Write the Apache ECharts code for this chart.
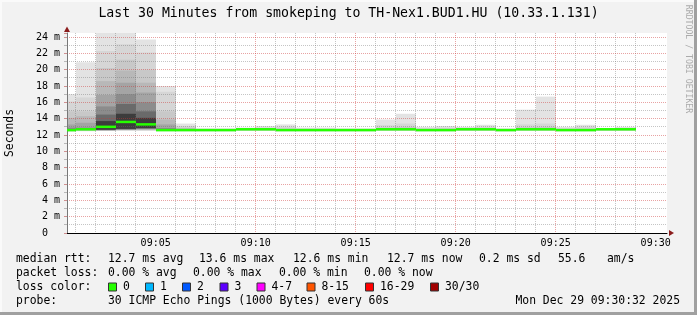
<!DOCTYPE html>
<html><head><meta charset="utf-8">
<script src="https://cdn.jsdelivr.net/npm/echarts@6/dist/echarts.min.js"></script>
<style>html,body{margin:0;padding:0;background:#f2f2f2}#c{width:697px;height:315px}</style>
</head><body><div id="c"></div>
<script>
// ---------------- data ----------------
const titleText = 'Last 30 Minutes from smokeping to TH-Nex1.BUD1.HU (10.33.1.131)';
const viewStart = '09:00:34';
const viewEnd = '09:30:34';
const xMajorTicks = ['09:05','09:10','09:15','09:20','09:25','09:30'];
const xMinorTicks = ['09:01','09:02','09:03','09:04','09:06','09:07','09:08','09:09',
  '09:11','09:12','09:13','09:14','09:16','09:17','09:18','09:19',
  '09:21','09:22','09:23','09:24','09:26','09:27','09:28','09:29'];
const yMinorTicks = [1,3,5,7,9,11,13,15,17,19,21,23];
const minutes = ['09:00','09:01','09:02','09:03','09:04','09:05','09:06','09:07','09:08','09:09',
  '09:10','09:11','09:12','09:13','09:14','09:15','09:16','09:17','09:18','09:19',
  '09:20','09:21','09:22','09:23','09:24','09:25','09:26','09:27','09:28'];
// median rtt per minute (ms)
const medianRtt = [12.6,12.7,13.0,13.6,13.3,12.6,12.6,12.6,12.6,12.7,
  12.7,12.6,12.6,12.6,12.6,12.6,12.7,12.7,12.6,12.6,
  12.7,12.7,12.6,12.7,12.7,12.6,12.6,12.7,12.7];
// smoke bands (outer -> inner): upper edges (ms)
const smokeUpper = [
  [17.0,16.1,14.9,14.1,13.3,12.9,12.75,12.7],
  [20.9,16.6,14.9,14.3,13.5,12.9,12.8,12.75],
  [26.5,22.3,20.2,18.6,16.9,15.5,14.5,13.7],
  [26.0,23.1,21.2,19.9,18.4,17.0,15.8,14.6],
  [23.7,22.1,20.0,18.4,17.2,16.0,14.9,14.1],
  [18.0,17.3,14.9,13.9,13.3,12.85,12.75,12.7],
  [13.4,13.1,12.9,12.8,12.75,12.7,12.7,12.65],
  [12.8,12.75,12.7,12.7,12.65,12.65,12.6,12.6],
  [12.8,12.75,12.7,12.7,12.65,12.65,12.6,12.6],
  [12.9,12.8,12.75,12.75,12.7,12.7,12.7,12.7],
  [13.1,12.9,12.8,12.75,12.75,12.7,12.7,12.7],
  [13.3,13.0,12.8,12.7,12.7,12.65,12.65,12.6],
  [12.9,12.8,12.7,12.7,12.65,12.65,12.6,12.6],
  [12.9,12.8,12.7,12.7,12.65,12.65,12.6,12.6],
  [12.8,12.75,12.7,12.7,12.65,12.65,12.6,12.6],
  [12.8,12.75,12.7,12.7,12.65,12.65,12.6,12.6],
  [13.9,13.2,12.9,12.8,12.75,12.75,12.7,12.7],
  [14.6,13.4,13.0,12.85,12.8,12.75,12.7,12.7],
  [13.0,12.85,12.75,12.7,12.7,12.65,12.65,12.6],
  [13.1,12.9,12.8,12.7,12.7,12.65,12.65,12.6],
  [13.0,12.9,12.8,12.75,12.75,12.7,12.7,12.7],
  [13.25,13.0,12.85,12.8,12.75,12.75,12.7,12.7],
  [12.8,12.75,12.7,12.7,12.65,12.65,12.6,12.6],
  [15.1,13.3,12.95,12.85,12.8,12.75,12.7,12.7],
  [16.7,13.4,13.0,12.85,12.8,12.75,12.7,12.7],
  [13.0,12.85,12.75,12.7,12.7,12.65,12.65,12.6],
  [13.25,13.0,12.8,12.7,12.7,12.65,12.65,12.6],
  [12.8,12.75,12.75,12.7,12.7,12.7,12.7,12.7],
  [13.0,12.85,12.8,12.75,12.7,12.7,12.7,12.7]
];
// smoke bands (outer -> inner): lower edges (ms)
const smokeLower = [
  [12.4,12.5,12.5,12.5,12.55,12.55,12.6,12.6],
  [12.45,12.5,12.55,12.6,12.6,12.65,12.65,12.7],
  [12.5,12.5,12.55,12.6,12.6,12.6,12.6,12.65],
  [12.5,12.55,12.6,12.6,12.65,12.7,12.7,12.75],
  [12.5,12.55,12.6,12.65,12.7,12.75,12.8,12.85],
  [12.45,12.5,12.5,12.55,12.55,12.6,12.6,12.6],
  [12.45,12.5,12.5,12.55,12.55,12.6,12.6,12.6],
  [12.45,12.5,12.5,12.55,12.55,12.6,12.6,12.6],
  [12.45,12.5,12.5,12.55,12.55,12.6,12.6,12.6],
  [12.5,12.55,12.6,12.6,12.65,12.65,12.65,12.7],
  [12.5,12.55,12.6,12.6,12.65,12.65,12.65,12.7],
  [12.45,12.5,12.5,12.55,12.55,12.6,12.6,12.6],
  [12.45,12.5,12.5,12.55,12.55,12.6,12.6,12.6],
  [12.45,12.5,12.5,12.55,12.55,12.6,12.6,12.6],
  [12.45,12.5,12.5,12.55,12.55,12.6,12.6,12.6],
  [12.45,12.5,12.5,12.55,12.55,12.6,12.6,12.6],
  [12.5,12.55,12.6,12.6,12.65,12.65,12.65,12.7],
  [12.5,12.55,12.6,12.6,12.65,12.65,12.65,12.7],
  [12.45,12.5,12.5,12.55,12.55,12.6,12.6,12.6],
  [12.45,12.5,12.5,12.55,12.55,12.6,12.6,12.6],
  [12.5,12.55,12.6,12.6,12.65,12.65,12.65,12.7],
  [12.5,12.55,12.6,12.6,12.65,12.65,12.65,12.7],
  [12.45,12.5,12.5,12.55,12.55,12.6,12.6,12.6],
  [12.5,12.55,12.6,12.6,12.65,12.65,12.65,12.7],
  [12.5,12.55,12.6,12.6,12.65,12.65,12.65,12.7],
  [12.45,12.5,12.5,12.55,12.55,12.6,12.6,12.6],
  [12.45,12.5,12.5,12.55,12.55,12.6,12.6,12.6],
  [12.5,12.55,12.6,12.6,12.65,12.65,12.65,12.7],
  [12.5,12.55,12.6,12.6,12.65,12.65,12.65,12.7]
];
const rttStats = ['12.7 ms avg','13.6 ms max','12.6 ms min','12.7 ms now','0.2 ms sd','55.6','am/s'];
const lossStats = ['0.00 % avg','0.00 % max','0.00 % min','0.00 % now'];
const lossLabels = ['0','1','2','3','4-7','8-15','16-29','30/30'];
const lossColors = ['#26ff00','#00b8ff','#0059ff','#5e00ff','#ff00ff','#ff5500','#ff0000','#a10000'];
const probeText = '30 ICMP Echo Pings (1000 Bytes) every 60s';
const dateText = 'Mon Dec 29 09:30:32 2025';
const yMax = 24.49;

// ---------------- layout / style ----------------
const MONO = '"DejaVu Sans Mono", monospace';
const bandColors = ['#e3e3e3','#d6d6d6','#c8c8c8','#b8b8b8','#a4a4a4','#8c8c8c','#6a6a6a','#3c3c3c'];
const NB = bandColors.length;
const rttX = [108,199,293,387,479,558,607];
const lossX = [108,193,279,364];
const swatchX = [108,145,182,219.5,256.5,306.5,365,430];
const rowY = [259.5,273.5,287.5,301.5];
const LEG_FONT = '11.4px ' + MONO;
const MAJOR_COLOR = 'rgba(205,50,50,0.45)';
const MINOR_COLOR = 'rgba(110,110,110,0.4)';

function toTime(s){ const p = s.split(':').map(Number); return new Date(2025,11,29,p[0],p[1],p[2]||0).getTime(); }
const tMin = toTime(viewStart), tMax = toTime(viewEnd);
const majorVals = xMajorTicks.map(toTime);
const data = minutes.map((m,i)=>[toTime(m), toTime(m)+60000, medianRtt[i]].concat(smokeUpper[i], smokeLower[i]));

function pad(n){ return (n<10?'0':'')+n; }
function crisp(v){ return Math.round(v - 0.5) + 0.5; }

function renderSmoke(params, api){
  const cs = params.coordSys;
  const t0 = api.value(0), t1 = api.value(1);
  const children = [];
  for (let k=0;k<NB;k++){
    const hi = api.value(3+k), lo = api.value(3+NB+k);
    const a = api.coord([t0, hi]), b = api.coord([t1, lo]);
    const x0 = Math.round(a[0]), x1 = Math.round(b[0]);
    const r = echarts.graphic.clipRectByRect(
      {x:x0, y:a[1], width:x1-x0, height:b[1]-a[1]},
      {x:cs.x, y:cs.y, width:cs.width, height:cs.height});
    if (r) children.push({type:'rect', shape:r, style:{fill:bandColors[k]}});
  }
  return {type:'group', children};
}
function renderMedian(params, api){
  const cs = params.coordSys;
  const a = api.coord([api.value(0), api.value(2)]);
  const b = api.coord([api.value(1), api.value(2)]);
  const x0 = Math.round(a[0]), x1 = Math.round(b[0]);
  const r = echarts.graphic.clipRectByRect(
    {x:x0, y:a[1]-1.25, width:x1-x0, height:2.5},
    {x:cs.x, y:cs.y, width:cs.width, height:cs.height});
  if (!r) return null;
  return {type:'rect', shape:r, style:{fill:lossColors[0]}};
}
function renderVGrid(params, api){
  const t = api.value(0);
  const p = api.coord([t, 0]), q = api.coord([t, yMax]);
  const x = crisp(p[0]);
  return {type:'line', shape:{x1:x, y1:q[1], x2:x, y2:p[1]}, style:{stroke:MINOR_COLOR, lineWidth:1, lineDash:[1,1]}};
}
function renderHGrid(params, api){
  const v = api.value(0);
  const p = api.coord([tMin, v]), q = api.coord([tMax, v]);
  const y = crisp(p[1]);
  return {type:'group', children:[
    {type:'line', shape:{x1:p[0], y1:y, x2:q[0], y2:y}, style:{stroke:MINOR_COLOR, lineWidth:1, lineDash:[1,1]}},
    {type:'line', shape:{x1:p[0]-3, y1:y, x2:p[0], y2:y}, style:{stroke:'#b8b8b8', lineWidth:1}}
  ]};
}

const graphics = [];
graphics.push({type:'rect', shape:{x:0,y:0,width:697,height:2}, style:{fill:'#fafafa'}, z:100});
graphics.push({type:'rect', shape:{x:0,y:0,width:2,height:315}, style:{fill:'#fafafa'}, z:100});
graphics.push({type:'rect', shape:{x:694,y:0,width:3,height:315}, style:{fill:'#a0a0a0'}, z:100});
graphics.push({type:'rect', shape:{x:0,y:312,width:697,height:3}, style:{fill:'#a0a0a0'}, z:100});
graphics.push({type:'text', x:348.5, y:13.5, style:{text:titleText, font:'13.2px '+MONO, fill:'#000', textAlign:'center', textVerticalAlign:'middle'}});
graphics.push({type:'text', x:10.5, y:133, rotation:Math.PI/2, style:{text:'Seconds', font:'11.4px '+MONO, fill:'#000', textAlign:'center', textVerticalAlign:'middle'}});
graphics.push({type:'text', x:688.5, y:59, rotation:-Math.PI/2, style:{text:'RRDTOOL / TOBI OETIKER', font:'8.2px '+MONO, fill:'#ababab', textAlign:'center', textVerticalAlign:'middle'}});
graphics.push({type:'polygon', shape:{points:[[669,230],[669,236],[674,233]]}, style:{fill:'#8b1c1c'}, z:100});
graphics.push({type:'polygon', shape:{points:[[64,32],[70,32],[67,26.5]]}, style:{fill:'#8b1c1c'}, z:100});
const labs = ['median rtt:','packet loss:','loss color:','probe:'];
labs.forEach((t,i)=>graphics.push({type:'text', x:16, y:rowY[i], style:{text:t, font:LEG_FONT, fill:'#000', textVerticalAlign:'middle'}}));
rttStats.forEach((t,i)=>graphics.push({type:'text', x:rttX[i], y:rowY[0], style:{text:t, font:LEG_FONT, fill:'#000', textVerticalAlign:'middle'}}));
lossStats.forEach((t,i)=>graphics.push({type:'text', x:lossX[i], y:rowY[1], style:{text:t, font:LEG_FONT, fill:'#000', textVerticalAlign:'middle'}}));
lossLabels.forEach((t,i)=>{
  graphics.push({type:'rect', shape:{x:swatchX[i]+0.5, y:rowY[2]-4.5, width:8, height:8}, style:{fill:lossColors[i], stroke:'#333', lineWidth:1}});
  graphics.push({type:'text', x:swatchX[i]+15, y:rowY[2], style:{text:t, font:LEG_FONT, fill:'#000', textVerticalAlign:'middle'}});
});
graphics.push({type:'text', x:108, y:rowY[3], style:{text:probeText, font:LEG_FONT, fill:'#000', textVerticalAlign:'middle'}});
graphics.push({type:'text', x:680, y:rowY[3], style:{text:dateText, font:LEG_FONT, fill:'#000', textAlign:'right', textVerticalAlign:'middle'}});

const chart = echarts.init(document.getElementById('c'), null, {renderer:'canvas'});
chart.setOption({
  animation:false,
  backgroundColor:'#f2f2f2',
  grid:{left:67, top:33, width:600, height:200, show:true, backgroundColor:'#ffffff', borderWidth:0, containLabel:false},
  xAxis:{type:'value', min:tMin, max:tMax, position:'bottom', z:4,
     axisLine:{show:true, onZero:false, lineStyle:{color:'#000', width:1}},
     axisTick:{show:false, customValues:majorVals},
     axisLabel:{color:'#000', fontFamily:MONO, fontSize:10, margin:5, customValues:majorVals,
       formatter:function(v){ const d=new Date(v); return pad(d.getHours())+':'+pad(d.getMinutes()); }},
     splitLine:{show:true, showMinLine:false, showMaxLine:false, lineStyle:{color:MAJOR_COLOR, width:1, type:[1,1]}}},
  yAxis:{type:'value', min:0, max:yMax, interval:2, position:'left', z:4,
     axisLine:{show:true, onZero:false, lineStyle:{color:'#777', width:1}},
     axisTick:{show:true, length:3, lineStyle:{color:'#d09090'}},
     axisLabel:{color:'#000', fontFamily:MONO, fontSize:10, margin:7,
       formatter:function(v){ if(Math.abs(v-Math.round(v))>1e-6) return ''; return v===0 ? '0  ' : (v+' m'); }},
     splitLine:{show:true, showMinLine:false, showMaxLine:false, lineStyle:{color:MAJOR_COLOR, width:1, type:[1,1]}}},
  series:[
    {type:'custom', name:'smoke', z:1, silent:true, clip:false,
     encode:{x:[0,1], y:[3]}, renderItem:renderSmoke, data:data},
    {type:'custom', name:'minorX', z:2, silent:true, clip:false,
     encode:{x:0}, renderItem:renderVGrid, data:xMinorTicks.map(s=>[toTime(s)])},
    {type:'custom', name:'minorY', z:2, silent:true, clip:false,
     encode:{y:0}, renderItem:renderHGrid, data:yMinorTicks.map(v=>[v])},
    {type:'custom', name:'median', z:10, silent:true,
     encode:{x:[0,1], y:[2]}, renderItem:renderMedian, data:data}
  ],
  graphic:{elements:graphics}
});
</script></body></html>
